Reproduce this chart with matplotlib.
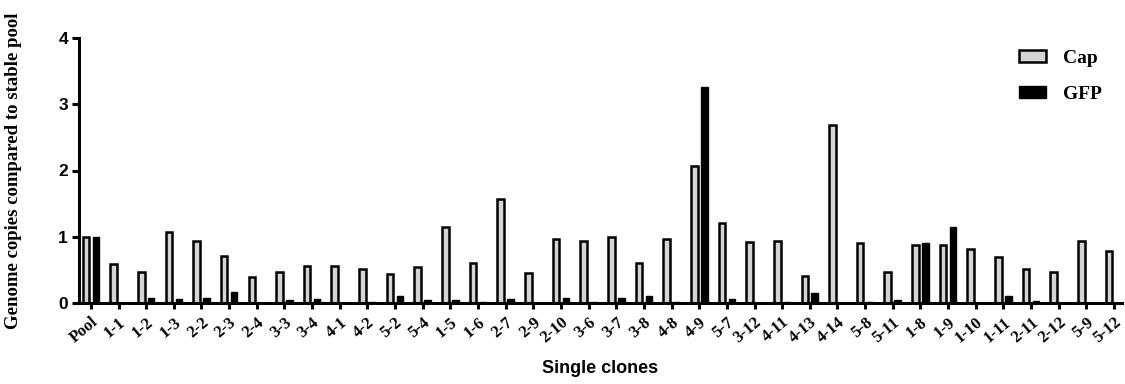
import matplotlib
matplotlib.use("Agg")
import matplotlib.pyplot as plt
import numpy as np

clones = ["Pool", "1-1", "1-2", "1-3", "2-2", "2-3", "2-4", "3-3", "3-4", "4-1",
          "4-2", "5-2", "5-4", "1-5", "1-6", "2-7", "2-9", "2-10", "3-6", "3-7",
          "3-8", "4-8", "4-9", "5-7", "3-12", "4-11", "4-13", "4-14", "5-8", "5-11",
          "1-8", "1-9", "1-10", "1-11", "2-11", "2-12", "5-9", "5-12"]
cap = [1.00, 0.59, 0.47, 1.07, 0.94, 0.71, 0.39, 0.47, 0.56, 0.56,
       0.51, 0.44, 0.54, 1.14, 0.61, 1.57, 0.46, 0.96, 0.93, 0.99,
       0.61, 0.97, 2.07, 1.21, 0.92, 0.93, 0.41, 2.69, 0.91, 0.47,
       0.88, 0.87, 0.82, 0.70, 0.51, 0.47, 0.93, 0.78]
gfp = [1.00, 0.00, 0.075, 0.06, 0.08, 0.16, 0.00, 0.04, 0.06, 0.00,
       0.01, 0.105, 0.04, 0.045, 0.01, 0.06, 0.00, 0.08, 0.01, 0.07,
       0.10, 0.02, 3.26, 0.06, 0.00, 0.01, 0.145, 0.00, 0.01, 0.04,
       0.90, 1.15, 0.00, 0.10, 0.035, 0.00, 0.00, 0.00]

fig = plt.figure(figsize=(11.25, 3.84), dpi=100)
ax = fig.add_axes([79/1125, 1-303/384, (1122-79)/1125, (303-38)/384])

x = np.arange(len(clones))
w = 0.24
off = 0.18
ax.bar(x - off, cap, width=w, color="#d4d4d4", edgecolor="black", linewidth=1.8, label="Cap", zorder=2)
ax.bar(x + off, gfp, width=w, color="black", edgecolor="black", linewidth=1.0, label="GFP", zorder=2)

ax.set_xlim(-0.43, 37.29)
ax.set_ylim(0, 4)
ax.set_yticks([0, 1, 2, 3, 4])
ax.set_yticklabels(["0", "1", "2", "3", "4"], fontfamily="Liberation Sans", fontweight="bold", fontsize=12.5)
ax.set_xticks(x)
ax.set_xticklabels(clones, rotation=40, ha="right", rotation_mode="anchor",
                   fontfamily="Liberation Serif", fontweight="bold", fontsize=12)

for s in ["top", "right"]:
    ax.spines[s].set_visible(False)
for s in ["left", "bottom"]:
    ax.spines[s].set_linewidth(2.2)
    ax.spines[s].set_zorder(3)
ax.tick_params(axis="y", direction="out", length=5, width=2.2, pad=3)
ax.tick_params(axis="x", direction="out", length=4, width=2.2, pad=4)

ax.set_ylabel("Genome copies compared to stable pool", fontfamily="Liberation Serif",
              fontweight="bold", fontsize=13.5, labelpad=26)
ax.set_xlabel("Single clones", fontfamily="Liberation Sans", fontweight="bold", fontsize=13, labelpad=10)

leg = ax.legend(loc="upper left", bbox_to_anchor=(1019/1125, 1-50/384), bbox_transform=fig.transFigure,
                frameon=False, prop={"family": "Liberation Serif", "weight": "bold", "size": 14},
                handlelength=1.4, handleheight=0.6, handletextpad=0.85, labelspacing=0.95,
                borderaxespad=0, borderpad=0)

fig.savefig("out.png", dpi=100)
